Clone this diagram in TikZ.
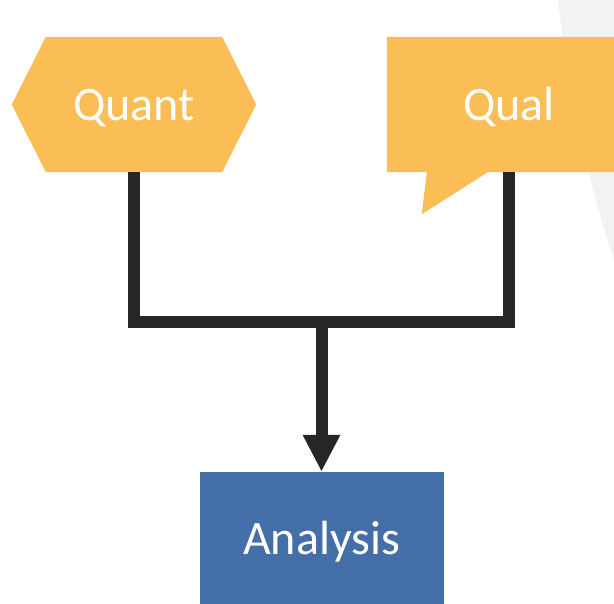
\documentclass[tikz,border=0pt]{standalone}
\usepackage{fontspec}
\setmainfont{Carlito}
\usetikzlibrary{arrows.meta,backgrounds,calc}
\definecolor{boxorange}{HTML}{FBBE56}
\definecolor{boxblue}{HTML}{436EA8}
\definecolor{wirecol}{HTML}{262626}
\definecolor{backsweep}{HTML}{F2F2F2}
\tikzset{
  label text/.style={text=white, font=\fontsize{48}{56}\selectfont, inner sep=0pt,
    text height=32pt, text depth=0pt},
  shapebox/.style={label text, minimum width=244pt, minimum height=135pt},
  bluebox/.style={label text, fill=boxblue, minimum width=244pt, minimum height=132pt},
  wire/.style={draw=wirecol, line width=12pt, line join=miter},
}
\begin{document}
\begin{tikzpicture}[x=1pt, y=-1pt]
  \useasboundingbox (0,0) rectangle (614,604);
  \clip (0,0) rectangle (614,604);

  % text nodes
  \node[shapebox] (quant) at (134,104.5) {Quant};
  \node[shapebox] (qual) at (509,104.5) {Qual};
  \node[bluebox] (analysis) at (321.5,538) {Analysis};
  \coordinate (junc) at ($(analysis.north)+(0,-150)$);

  % backdrop and shapes behind the labels
  \begin{scope}[on background layer]
    \fill[backsweep] (558,0) .. controls (568,90) and (590,190) .. (614,260) -- (614,0) -- cycle;
    \fill[boxorange] (quant.west) -- ($(quant.north west)+(34,0)$) -- ($(quant.north east)+(-34,0)$)
      -- (quant.east) -- ($(quant.south east)+(-34,0)$) -- ($(quant.south west)+(34,0)$) -- cycle;
    \fill[boxorange] (qual.north west) -- (qual.north east) -- (qual.south east)
      -- ($(qual.south west)+(101,0)$) -- ($(qual.south west)+(35,42)$)
      -- ($(qual.south west)+(40,0)$) -- (qual.south west) -- cycle;
  \end{scope}

  % connectors
  \draw[wire] (quant.south) |- (junc) -| (qual.south);
  \draw[wire, -{Triangle[width=35pt,length=37pt]}] (junc) -- (analysis.north);
\end{tikzpicture}
\end{document}
